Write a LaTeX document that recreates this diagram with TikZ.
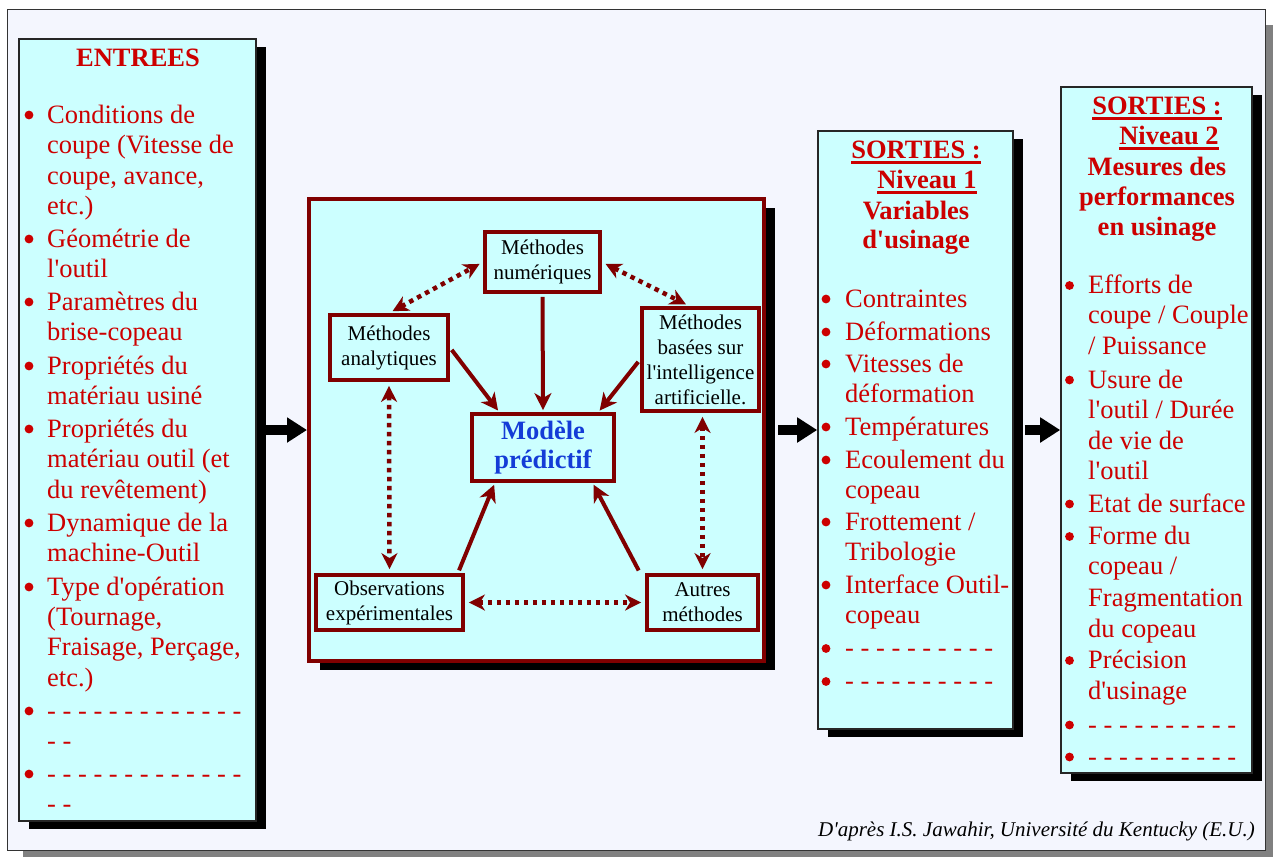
\documentclass[tikz,border=0pt]{standalone}
\usepackage{fontspec}
\newfontfamily\tnr{Liberation Serif}
\usetikzlibrary{arrows.meta,shadows,calc}
\definecolor{txtred}{RGB}{204,0,0}
\definecolor{boxred}{RGB}{128,0,0}
\definecolor{mblue}{RGB}{20,60,215}
\definecolor{cyanfill}{RGB}{204,255,255}
\definecolor{framebg}{RGB}{244,246,254}
\definecolor{shadowgray}{RGB}{128,128,128}

% one text line per entry: baseline y / text / bullet flag
\newcommand\itemlist[4]{%
  \foreach \ytx/\ttx/\btx [count=\ktx] in {#4}{%
    \node[itemtxt] (#1-\ktx) at (#3,\ytx) {\ttx};
    \ifnum\btx=1 \fill[txtred] (#2,\ytx-8) circle (4.4pt);\fi
  }%
}

\begin{document}
\begin{tikzpicture}[x=1pt,y=-1pt,
  every node/.style={font=\tnr},
  colbox/.style={draw=black!85, line width=1.6pt, fill=cyanfill, inner sep=0pt,
    drop shadow={shadow xshift=10pt, shadow yshift=-8pt, opacity=1, fill=black}},
  bigbox/.style={draw=boxred, line width=4pt, fill=cyanfill, inner sep=0pt,
    drop shadow={shadow xshift=11pt, shadow yshift=-9pt, opacity=1, fill=black}},
  mbox/.style={draw=boxred, line width=3.8pt, fill=cyanfill, inner sep=0pt,
    align=center, font=\tnr\fontsize{21}{25}\selectfont},
  itemtxt/.style={anchor=base west, inner sep=0pt, text=txtred,
    font=\tnr\fontsize{26.5}{31}\selectfont},
  ttl/.style={anchor=base, inner sep=0pt, text=txtred,
    font=\tnr\bfseries\fontsize{26.5}{31}\selectfont},
  ul/.style={draw=txtred, line width=2.2pt},
  solidarrow/.style={draw=boxred, line width=4pt,
    -{Stealth[length=17pt,width=17pt,inset=5pt]}, shorten <=3pt, shorten >=2pt},
  dotarrow/.style={draw=boxred, line width=4.5pt, dash pattern=on 4.5pt off 4.5pt,
    {Stealth[length=16pt,width=16pt,inset=5pt]}-{Stealth[length=16pt,width=16pt,inset=5pt]},
    shorten <=4pt, shorten >=4pt},
  bigarrow/.style={draw=black, line width=10pt, -{Triangle[length=20pt,width=24pt]}},
]
\useasboundingbox (0,0) rectangle (1273,857);
\fill[white] (0,0) rectangle (1273,857);

% page frame with its shadow
\fill[shadowgray] (23,25) rectangle (1273,857);
\filldraw[fill=framebg, draw=black!80, line width=1.5pt] (7.5,9.5) rectangle (1265.5,850.5);

% the three column boxes
\node[colbox, minimum width=237pt, minimum height=782pt] (entrees) at (137.5,430) {};
\node[colbox, minimum width=195pt, minimum height=598pt] (sortie1) at (915.5,430) {};
\node[colbox, minimum width=191pt, minimum height=686pt] (sortie2) at (1156.5,430) {};

% central box with the methods
\node[bigbox, minimum width=455pt, minimum height=462pt] (cbox) at (536.5,430) {};

\node[mbox, minimum width=115pt, minimum height=60pt] (num) at (542.5,262) {Méthodes\\numériques};
\node[mbox, minimum width=118pt, minimum height=65pt] (ana) at (389,347.5) {Méthodes\\analytiques};
\node[mbox, minimum width=117pt, minimum height=103pt] (ia) at (700.5,359.5) {Méthodes\\basées sur\\l'intelligence\\artificielle.};
\node[mbox, minimum width=142pt, minimum height=67pt, text=mblue,
      font=\tnr\bfseries\fontsize{26.5}{28.5}\selectfont] (mod) at (543,447.5) {Modèle\\prédictif};
\node[mbox, minimum width=147pt, minimum height=55pt] (obs) at (389.5,602.5) {Observations\\expérimentales};
\node[mbox, minimum width=111pt, minimum height=55pt] (aut) at (702.5,602.5) {Autres\\méthodes};

% influences on the predictive model
\draw[solidarrow] (num.south) -- (mod.north);
\draw[solidarrow] (ana.east) -- ($(mod.north west)!0.2!(mod.north east)$);
\draw[solidarrow] (ia.west) -- ($(mod.north west)!0.88!(mod.north east)$);
\draw[solidarrow] ([xshift=-7pt]obs.north east) -- ($(mod.south west)!0.17!(mod.south east)$);
\draw[solidarrow] ([xshift=-5pt]aut.north west) -- ($(mod.south west)!0.84!(mod.south east)$);

% exchanges between the methods
\draw[dotarrow] (ana.north) -- (num.west);
\draw[dotarrow] (num.east) -- ([xshift=-11pt]ia.north);
\draw[dotarrow] (ana.south) -- (obs.north);
\draw[dotarrow] (ia.south -| aut.north) -- (aut.north);
\draw[dotarrow] (obs.east) -- (aut.west);

% flow between the columns
\draw[bigarrow] ([xshift=9pt]entrees.east) -- (cbox.west);
\draw[bigarrow] ([xshift=12pt]cbox.east) -- (sortie1.west);
\draw[bigarrow] ([xshift=11pt]sortie1.east) -- (sortie2.west);

% inputs
\node[ttl] (t-in) at (138,66.5) {ENTREES};
\itemlist{in}{29}{47}{%
123/{Conditions de}/1,
153.5/{coupe (Vitesse de}/0,
184/{coupe, avance,}/0,
214.5/{etc.)}/0,
247/{Géométrie de}/1,
277.5/{l'outil}/0,
310/{Paramètres du}/1,
340.5/{brise-copeau}/0,
374/{Propriétés du}/1,
404.5/{matériau usiné}/0,
437/{Propriétés du}/1,
467.5/{matériau outil (et}/0,
498/{du revêtement)}/0,
531/{Dynamique de la}/1,
561.5/{machine-Outil}/0,
595/{Type d'opération}/1,
625/{(Tournage,}/0,
655.5/{Fraisage, Perçage,}/0,
686/{etc.)}/0,
719/{- - - - - - - - - - - - -}/1,
749.5/{- -}/0,
782/{- - - - - - - - - - - - -}/1,
812.5/{- -}/0}

% outputs, level 1
\node[ttl] (t-s1a) at (916,158) {SORTIES :};
\node[ttl] (t-s1b) at (927,188) {Niveau 1};
\node[ttl] (t-s1c) at (916,219) {Variables};
\node[ttl] (t-s1d) at (916,248) {d'usinage};
\draw[ul] ([yshift=-4.5pt]t-s1a.base west) -- ([yshift=-4.5pt]t-s1a.base east);
\draw[ul] ([yshift=-4.5pt]t-s1b.base west) -- ([yshift=-4.5pt]t-s1b.base east);
\itemlist{s1}{826}{845}{%
307/{Contraintes}/1,
340/{Déformations}/1,
372/{Vitesses de}/1,
402.5/{déformation}/0,
435/{Températures}/1,
468/{Ecoulement du}/1,
498.5/{copeau}/0,
530/{Frottement /}/1,
560.5/{Tribologie}/0,
593/{Interface Outil-}/1,
623.5/{copeau}/0,
656.5/{- - - - - - - - - -}/1,
689.5/{- - - - - - - - - -}/1}

% outputs, level 2
\node[ttl] (t-s2a) at (1157,114) {SORTIES :};
\node[ttl] (t-s2b) at (1169,144) {Niveau 2};
\node[ttl] (t-s2c) at (1157,175) {Mesures des};
\node[ttl] (t-s2d) at (1157,205) {performances};
\node[ttl] (t-s2e) at (1157,235) {en usinage};
\draw[ul] ([yshift=-4.5pt]t-s2a.base west) -- ([yshift=-4.5pt]t-s2a.base east);
\draw[ul] ([yshift=-4.5pt]t-s2b.base west) -- ([yshift=-4.5pt]t-s2b.base east);
\itemlist{s2}{1069.5}{1088}{%
293.5/{Efforts de}/1,
323.5/{coupe / Couple}/0,
354/{/ Puissance}/0,
388/{Usure de}/1,
418.5/{l'outil / Durée}/0,
449/{de vie de}/0,
479.5/{l'outil}/0,
512/{Etat de surface}/1,
544.5/{Forme du}/1,
574.5/{copeau /}/0,
606.5/{Fragmentation}/0,
637/{du copeau}/0,
668.5/{Précision}/1,
699.5/{d'usinage}/0,
733/{- - - - - - - - - -}/1,
765/{- - - - - - - - - -}/1}

% source
\node[anchor=base east, inner sep=0pt, font=\tnr\itshape\fontsize{21}{25}\selectfont]
  (src) at (1255,836) {D'après I.S. Jawahir, Université du Kentucky (E.U.)};
\end{tikzpicture}
\end{document}
